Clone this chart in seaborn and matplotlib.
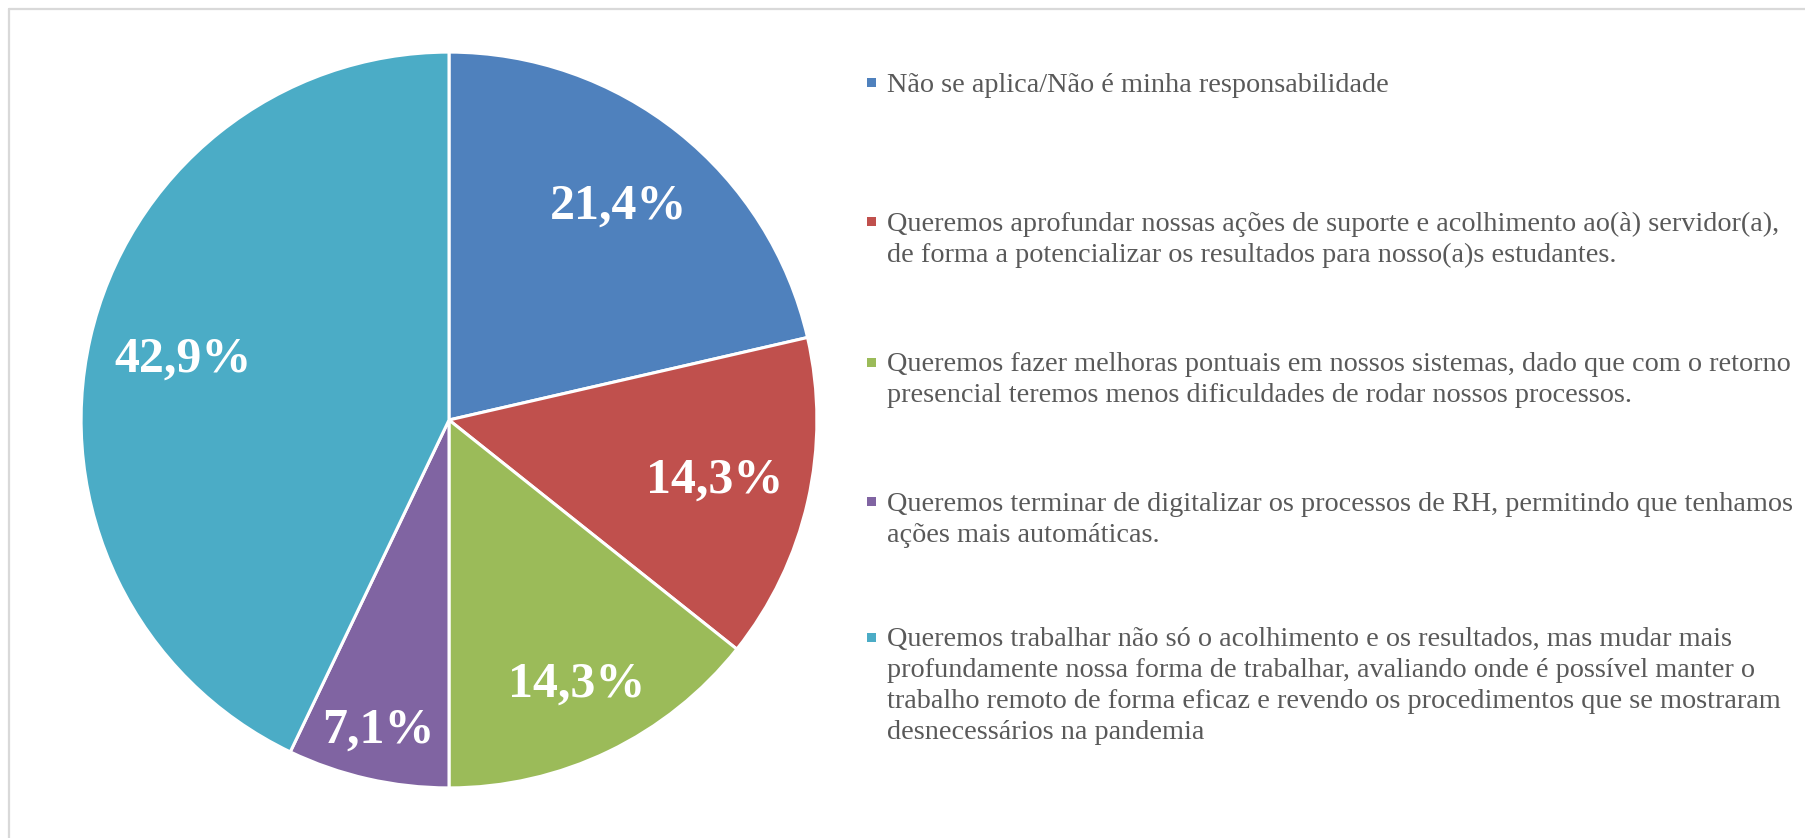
import matplotlib.pyplot as plt
import numpy as np
import seaborn as sns
from matplotlib.lines import Line2D
from matplotlib.patches import Rectangle

# Chart data (shares in %)
categories = [
    "Não se aplica/Não é minha responsabilidade",
    "Queremos aprofundar nossas ações de suporte e acolhimento ao(à) servidor(a),\n"
    "de forma a potencializar os resultados para nosso(a)s estudantes.",
    "Queremos fazer melhoras pontuais em nossos sistemas, dado que com o retorno\n"
    "presencial teremos menos dificuldades de rodar nossos processos.",
    "Queremos terminar de digitalizar os processos de RH, permitindo que tenhamos\n"
    "ações mais automáticas.",
    "Queremos trabalhar não só o acolhimento e os resultados, mas mudar mais\n"
    "profundamente nossa forma de trabalhar, avaliando onde é possível manter o\n"
    "trabalho remoto de forma eficaz e revendo os procedimentos que se mostraram\n"
    "desnecessários na pandemia",
]
shares = [21.4, 14.3, 14.3, 7.1, 42.9]
colors = ["#4F81BD", "#C0504D", "#9BBB59", "#8064A2", "#4BACC6"]

sns.set_theme(style="white")
plt.rcParams["font.family"] = ["Liberation Serif", "DejaVu Serif"]

W, H = 1806, 838
fig = plt.figure(figsize=(W / 100, H / 100), dpi=100)

# pie axes: centre (449, 420) px, radius 369 px
cx, cy, r = 449, 420, 369
ax = fig.add_axes([(cx - r) / W, (H - cy - r) / H, 2 * r / W, 2 * r / H])

wedges, texts, autotexts = ax.pie(
    shares,
    colors=sns.color_palette(colors),
    startangle=90,
    counterclock=False,
    autopct=lambda p: f"{p:.1f}%".replace(".", ","),
    pctdistance=0.74,
    wedgeprops=dict(edgecolor="white", linewidth=2.2),
    textprops=dict(color="white", fontsize=36, fontweight="bold"),
)
ax.set_xlim(-1.003, 1.003)
ax.set_ylim(-1.003, 1.003)

# nudge the smaller slice labels outward as in the original
label_dist = [0.74, 0.74, 0.80, 0.865, 0.74]
for t, d in zip(autotexts, label_dist):
    x, y = t.get_position()
    t.set_position((x * d / 0.74, y * d / 0.74))

# legend drawn at the right side
legend_y = [83, 222, 362, 502, 637]
for label, col, ly in zip(categories, colors, legend_y):
    fig.add_artist(Rectangle(((872 - 4.5) / W, 1 - (ly + 4.5) / H), 9 / W, 9 / H,
                             transform=fig.transFigure, color=col, lw=0))
    fig.text(887 / W, 1 - (ly - 10) / H, label, fontsize=20.3, color="#595959",
             va="top", ha="left", linespacing=1.32)

# light grey frame (left and top edges)
fig.add_artist(Line2D([9 / W, 9 / W], [0, 1 - 9 / H], color="#D9D9D9", lw=1.6))
fig.add_artist(Line2D([9 / W, 1], [1 - 9 / H, 1 - 9 / H], color="#D9D9D9", lw=1.6))

fig.savefig("out.png", dpi=100, facecolor="white")
